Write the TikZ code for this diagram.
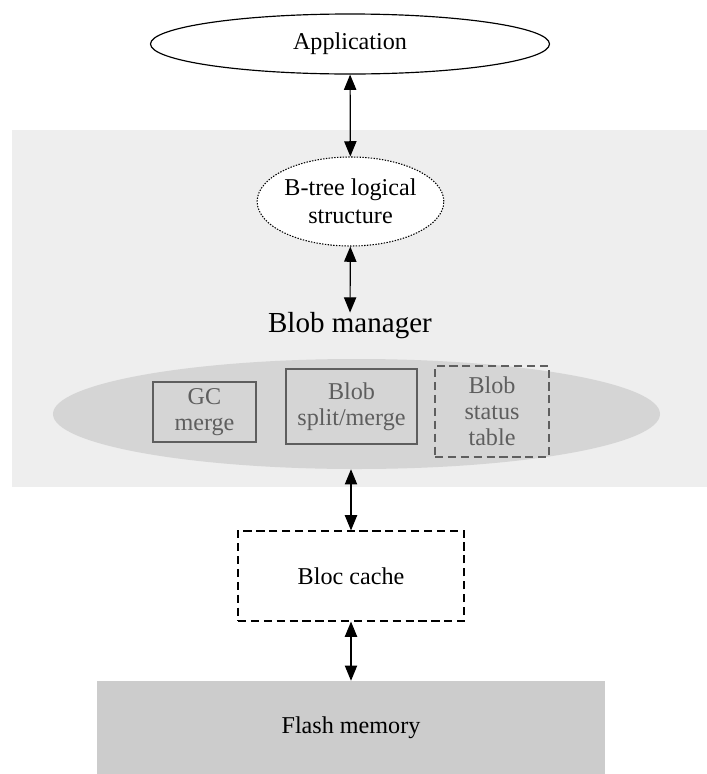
\documentclass[tikz,border=0pt]{standalone}
\usepackage{fontspec}
\setmainfont{Liberation Serif}
\usetikzlibrary{arrows.meta,shapes.geometric}
\definecolor{panel}{HTML}{EEEEEE}
\definecolor{pool}{HTML}{D5D5D5}
\definecolor{flash}{HTML}{CCCCCC}
\definecolor{muted}{HTML}{5E5E5E}

\begin{document}
\begin{tikzpicture}[x=0.03cm,y=-0.03cm,
    every node/.style={font=\fontsize{20.6}{23.5}\selectfont,align=center,inner sep=0pt},
    link/.style={{Triangle[length=13pt,width=10.5pt]}-{Triangle[length=13pt,width=10.5pt]},line width=1pt},
    part/.style={draw=muted,text=muted,line width=0.9pt,font=\fontsize{20.6}{22}\selectfont}]
  \useasboundingbox (0,0) rectangle (707,774);
  % blob manager area
  \fill[panel] (12,130) rectangle (707,487);
  \node[draw,ellipse,line width=1pt,minimum width=11.97cm,minimum height=1.8cm] (app) at (350,44) {Application};
  \node[draw,fill=white,ellipse,line width=0.9pt,dash pattern=on 1.2pt off 1.2pt,
        minimum width=3.75cm,minimum height=2.67cm] (btree) at (350.5,201.5) {B-tree logical\\structure};
  \node[font=\fontsize{24.8}{28}\selectfont] (mgr) at (350,326) {Blob manager};
  \node[fill=pool,ellipse,minimum width=18.21cm,minimum height=3.3cm] (pool) at (356.5,414) {};
  \node[part,minimum width=3.09cm,minimum height=1.8cm] (gc) at (204.5,412) {GC\\merge};
  \node[part,minimum width=3.93cm,minimum height=2.25cm] (split) at (351.5,406.5) {Blob\\split/merge};
  \node[part,dash pattern=on 7pt off 4pt,minimum width=3.42cm,minimum height=2.73cm] (status) at (492,411.5) {Blob\\status\\table};
  % storage side
  \node[draw,fill=white,line width=1pt,dash pattern=on 7pt off 4pt,
        minimum width=6.78cm,minimum height=2.7cm] (cache) at (351,576) {Bloc cache};
  \node[fill=flash,minimum width=15.24cm,minimum height=2.79cm] (flash) at (351,727.5) {Flash memory};
  \draw[link] (app) -- (btree);
  \draw[link] (btree) -- (mgr);
  \draw[link] (cache.north |- pool.south) -- (cache.north);
  \draw[link] (cache) -- (cache.south |- flash.north);
\end{tikzpicture}
\end{document}
